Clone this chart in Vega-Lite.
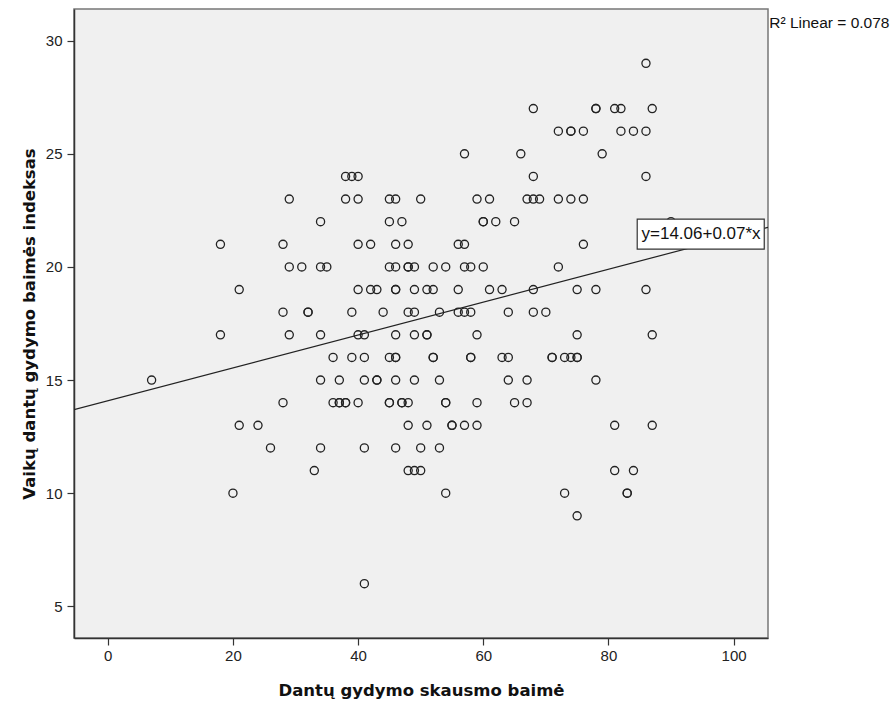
{
  "$schema": "https://vega.github.io/schema/vega-lite/v6.json",
  "width": 694,
  "height": 629,
  "autosize": {"type": "none"},
  "padding": {"left": 74, "top": 9, "right": 124, "bottom": 66},
  "background": "white",
  "config": {
    "view": {"fill": "#f0f0f0", "stroke": "#777777", "strokeWidth": 1.5},
    "axis": {"grid": false}
  },
  "datasets": {
    "pts": [
      {"x":86,"y":29},
      {"x":68,"y":27},{"x":78,"y":27},{"x":78,"y":27},{"x":81,"y":27},{"x":82,"y":27},{"x":87,"y":27},
      {"x":72,"y":26},{"x":74,"y":26},{"x":74,"y":26},{"x":76,"y":26},{"x":82,"y":26},{"x":84,"y":26},{"x":86,"y":26},
      {"x":57,"y":25},{"x":66,"y":25},{"x":79,"y":25},
      {"x":38,"y":24},{"x":39,"y":24},{"x":40,"y":24},{"x":68,"y":24},{"x":86,"y":24},
      {"x":29,"y":23},{"x":38,"y":23},{"x":40,"y":23},{"x":45,"y":23},{"x":46,"y":23},{"x":50,"y":23},{"x":59,"y":23},{"x":61,"y":23},{"x":67,"y":23},{"x":68,"y":23},{"x":69,"y":23},{"x":72,"y":23},{"x":74,"y":23},{"x":76,"y":23},
      {"x":34,"y":22},{"x":45,"y":22},{"x":47,"y":22},{"x":60,"y":22},{"x":60,"y":22},{"x":62,"y":22},{"x":65,"y":22},{"x":90,"y":22},
      {"x":18,"y":21},{"x":28,"y":21},{"x":40,"y":21},{"x":42,"y":21},{"x":46,"y":21},{"x":48,"y":21},{"x":56,"y":21},{"x":57,"y":21},{"x":76,"y":21},
      {"x":29,"y":20},{"x":31,"y":20},{"x":34,"y":20},{"x":35,"y":20},{"x":45,"y":20},{"x":46,"y":20},{"x":48,"y":20},{"x":48,"y":20},{"x":49,"y":20},{"x":52,"y":20},{"x":54,"y":20},{"x":57,"y":20},{"x":58,"y":20},{"x":60,"y":20},{"x":72,"y":20},
      {"x":21,"y":19},{"x":40,"y":19},{"x":42,"y":19},{"x":43,"y":19},{"x":46,"y":19},{"x":46,"y":19},{"x":49,"y":19},{"x":51,"y":19},{"x":52,"y":19},{"x":56,"y":19},{"x":61,"y":19},{"x":63,"y":19},{"x":68,"y":19},{"x":75,"y":19},{"x":78,"y":19},{"x":86,"y":19},
      {"x":28,"y":18},{"x":32,"y":18},{"x":32,"y":18},{"x":39,"y":18},{"x":44,"y":18},{"x":48,"y":18},{"x":49,"y":18},{"x":53,"y":18},{"x":56,"y":18},{"x":57,"y":18},{"x":58,"y":18},{"x":64,"y":18},{"x":68,"y":18},{"x":70,"y":18},
      {"x":18,"y":17},{"x":29,"y":17},{"x":34,"y":17},{"x":40,"y":17},{"x":41,"y":17},{"x":46,"y":17},{"x":49,"y":17},{"x":51,"y":17},{"x":51,"y":17},{"x":59,"y":17},{"x":75,"y":17},{"x":87,"y":17},
      {"x":36,"y":16},{"x":39,"y":16},{"x":41,"y":16},{"x":45,"y":16},{"x":46,"y":16},{"x":46,"y":16},{"x":52,"y":16},{"x":52,"y":16},{"x":58,"y":16},{"x":58,"y":16},{"x":63,"y":16},{"x":64,"y":16},{"x":71,"y":16},{"x":71,"y":16},{"x":73,"y":16},{"x":74,"y":16},{"x":75,"y":16},{"x":75,"y":16},
      {"x":7,"y":15},{"x":34,"y":15},{"x":37,"y":15},{"x":41,"y":15},{"x":43,"y":15},{"x":43,"y":15},{"x":46,"y":15},{"x":49,"y":15},{"x":53,"y":15},{"x":64,"y":15},{"x":67,"y":15},{"x":78,"y":15},
      {"x":28,"y":14},{"x":36,"y":14},{"x":37,"y":14},{"x":37,"y":14},{"x":38,"y":14},{"x":38,"y":14},{"x":40,"y":14},{"x":45,"y":14},{"x":45,"y":14},{"x":47,"y":14},{"x":47,"y":14},{"x":48,"y":14},{"x":54,"y":14},{"x":54,"y":14},{"x":59,"y":14},{"x":65,"y":14},{"x":67,"y":14},
      {"x":21,"y":13},{"x":24,"y":13},{"x":48,"y":13},{"x":51,"y":13},{"x":55,"y":13},{"x":55,"y":13},{"x":57,"y":13},{"x":59,"y":13},{"x":81,"y":13},{"x":87,"y":13},
      {"x":26,"y":12},{"x":34,"y":12},{"x":41,"y":12},{"x":46,"y":12},{"x":50,"y":12},{"x":53,"y":12},
      {"x":33,"y":11},{"x":48,"y":11},{"x":49,"y":11},{"x":50,"y":11},{"x":81,"y":11},{"x":84,"y":11},
      {"x":20,"y":10},{"x":54,"y":10},{"x":73,"y":10},{"x":83,"y":10},{"x":83,"y":10},
      {"x":75,"y":9},
      {"x":41,"y":6}
    ],
    "fit": [{"x": -5.4, "y": 13.69}, {"x": 105.5, "y": 21.75}],
    "box": [{"x": 84.6, "x2": 104.9, "y": 22.11, "y2": 20.79, "cx": 94.8, "cy": 21.45, "label": "y=14.06+0.07*x"}],
    "r2": [{"x": 105.7, "y": 30.8, "label": "R² Linear = 0.078"}]
  },
  "encoding": {
    "x": {
      "field": "x", "type": "quantitative",
      "scale": {"domain": [-5.4, 105.5], "nice": false, "zero": false},
      "axis": {
        "values": [0, 20, 40, 60, 80, 100],
        "title": "Dantų gydymo skausmo baimė",
        "tickSize": 7, "tickColor": "#333333", "tickWidth": 1.2,
        "domainColor": "#333333", "domainWidth": 1.5,
        "labelFont": "Liberation Sans", "labelFontSize": 15, "labelColor": "#222222", "labelPadding": 3,
        "titleFont": "DejaVu Sans", "titleFontWeight": "bold", "titleFontSize": 16.5, "titleColor": "#111111",
        "titleY": 44
      }
    },
    "y": {
      "field": "y", "type": "quantitative",
      "scale": {"domain": [3.6, 31.4], "nice": false, "zero": false},
      "axis": {
        "values": [5, 10, 15, 20, 25, 30],
        "title": "Vaikų dantų gydymo baimės indeksas",
        "tickSize": 7, "tickColor": "#333333", "tickWidth": 1.2,
        "domainColor": "#333333", "domainWidth": 1.5,
        "labelFont": "Liberation Sans", "labelFontSize": 15, "labelColor": "#222222", "labelPadding": 5,
        "titleFont": "DejaVu Sans", "titleFontWeight": "bold", "titleFontSize": 16.5, "titleColor": "#111111",
        "titleX": -37
      }
    }
  },
  "layer": [
    {
      "data": {"name": "pts"},
      "mark": {"type": "point", "shape": "circle", "filled": false, "stroke": "#222222", "strokeWidth": 1.3, "size": 66, "opacity": 1}
    },
    {
      "data": {"name": "fit"},
      "mark": {"type": "line", "color": "#222222", "strokeWidth": 1.2, "clip": true}
    },
    {
      "data": {"name": "box"},
      "mark": {"type": "rect", "fill": "white", "stroke": "#333333", "strokeWidth": 1.2},
      "encoding": {"x2": {"field": "x2"}, "y2": {"field": "y2"}}
    },
    {
      "data": {"name": "box"},
      "mark": {"type": "text", "font": "Liberation Sans", "fontSize": 17, "color": "#111111", "align": "center", "baseline": "middle"},
      "encoding": {
        "x": {"field": "cx", "type": "quantitative"},
        "y": {"field": "cy", "type": "quantitative"},
        "text": {"field": "label"}
      }
    },
    {
      "data": {"name": "r2"},
      "mark": {"type": "text", "font": "Liberation Sans", "fontSize": 15.5, "color": "#111111", "align": "left", "baseline": "middle"},
      "encoding": {"text": {"field": "label"}}
    }
  ]
}
